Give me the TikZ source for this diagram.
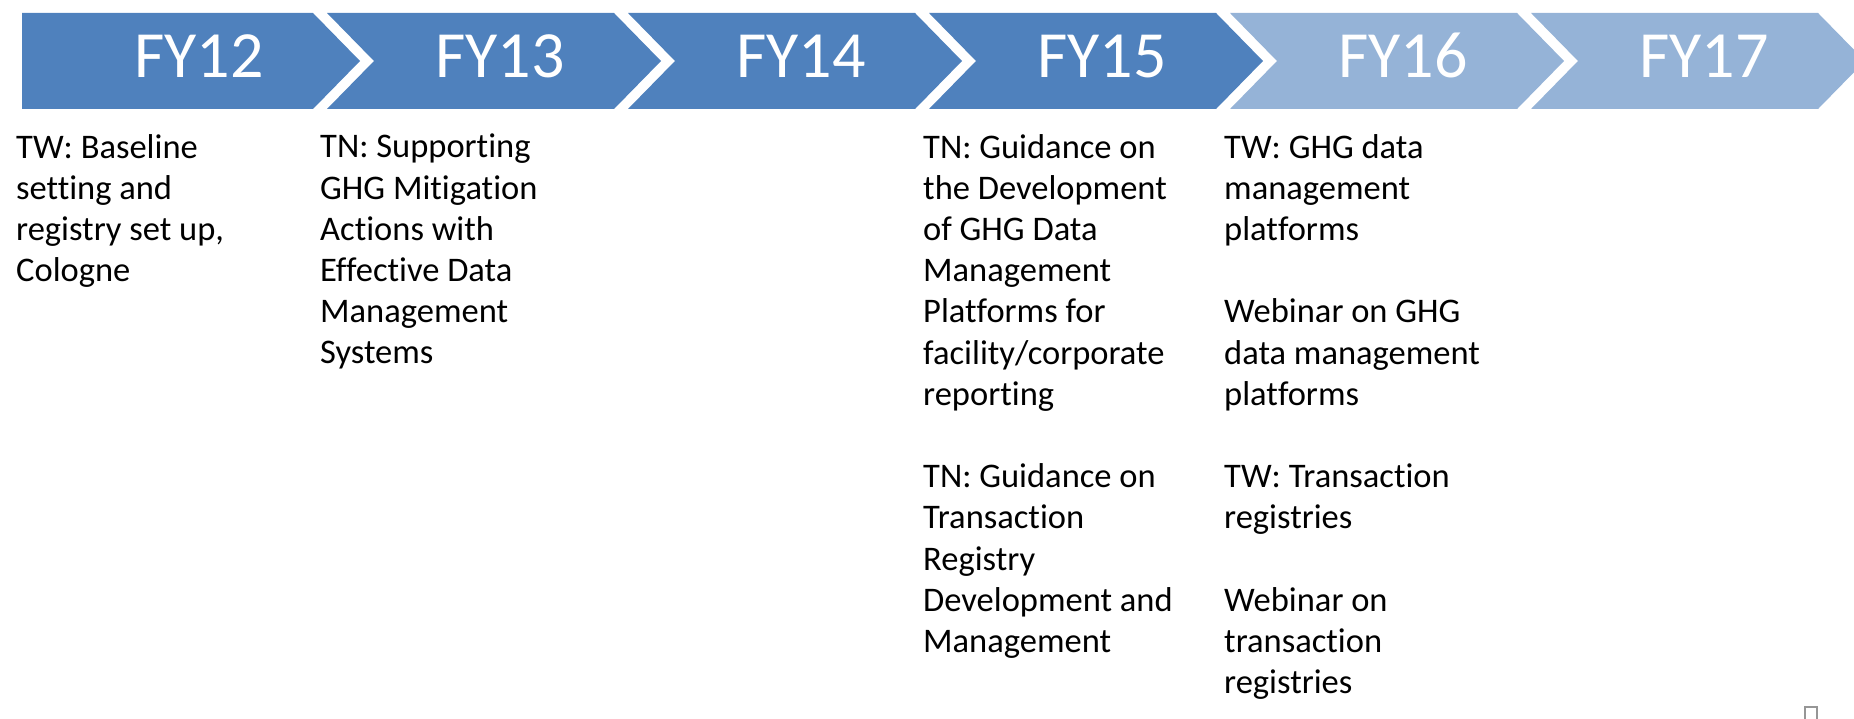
\documentclass[tikz,border=0pt]{standalone}
\usepackage{fontspec}
\setmainfont{Carlito}[Ligatures={NoCommon,NoContextual}]
\definecolor{fydark}{HTML}{4F81BD}
\definecolor{fylight}{HTML}{95B3D7}
\definecolor{handlegray}{HTML}{969696}

\begin{document}
\begin{tikzpicture}[x=1pt, y=-1pt,
    year node/.style={anchor=base, text=white, inner sep=0pt, font=\fontsize{66}{70}\selectfont},
    note node/.style={anchor=north west, align=left, inner sep=0pt, font=\fontsize{34.5}{41.2}\selectfont},
    ]
  \def\D{47}
  \useasboundingbox (0,0) rectangle (1854,719);

  \fill[fydark] (22,13) -- ++(291,0) -- ++(\D,48) -- ++(-\D,48) -- ++(-291,0) -- cycle;
  \fill[fydark] (327,13) -- ++(287,0) -- ++(\D,48) -- ++(-\D,48) -- ++(-287,0) -- ++(\D,-48) -- cycle;
  \fill[fydark] (628,13) -- ++(287,0) -- ++(\D,48) -- ++(-\D,48) -- ++(-287,0) -- ++(\D,-48) -- cycle;
  \fill[fydark] (929,13) -- ++(287,0) -- ++(\D,48) -- ++(-\D,48) -- ++(-287,0) -- ++(\D,-48) -- cycle;
  \fill[fylight] (1230,13) -- ++(287,0) -- ++(\D,48) -- ++(-\D,48) -- ++(-287,0) -- ++(\D,-48) -- cycle;
  \fill[fylight] (1531,13) -- ++(287,0) -- ++(\D,48) -- ++(-\D,48) -- ++(-287,0) -- ++(\D,-48) -- cycle;

  \node[year node] (fy12) at (199,78) {FY12};
  \node[year node] (fy13) at (500,78) {FY13};
  \node[year node] (fy14) at (801,78) {FY14};
  \node[year node] (fy15) at (1102,78) {FY15};
  \node[year node] (fy16) at (1403,78) {FY16};
  \node[year node] (fy17) at (1704,78) {FY17};

  \node[note node] (tw12) at (16,134) {TW: Baseline\\setting and\\registry set up,\\Cologne};
  \node[note node] (tn13) at (320,134) {TN: Supporting\\GHG Mitigation\\Actions with\\Effective Data\\Management\\Systems};
  \node[note node] (tn15) at (923,134) {TN: Guidance on\\the Development\\of GHG Data\\Management\\Platforms for\\facility/corporate\\reporting\\[41.2pt]TN: Guidance on\\Transaction\\Registry\\Development and\\Management};
  \node[note node] (tw16) at (1224,134) {TW: GHG data\\management\\platforms\\[41.2pt]Webinar on GHG\\data management\\platforms\\[41.2pt]TW: Transaction\\registries\\[41.2pt]Webinar on\\transaction\\registries};

  \draw[handlegray, line width=2.5] (1805,725) -- (1805,707) -- (1817,707) -- (1817,725);
\end{tikzpicture}
\end{document}
